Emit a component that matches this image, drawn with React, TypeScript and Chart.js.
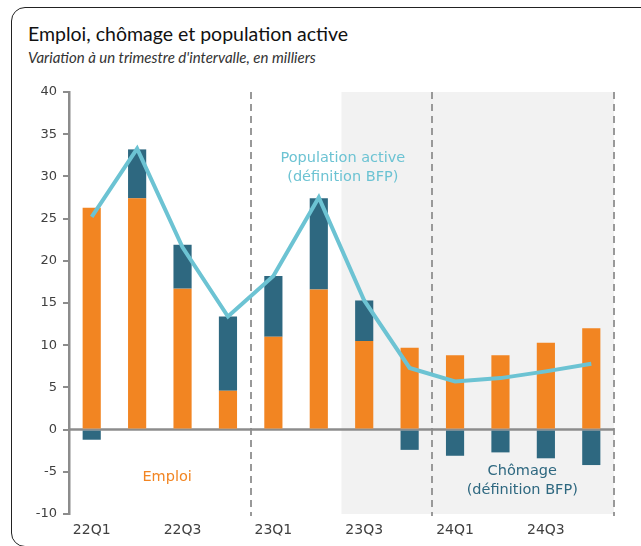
import React, { useEffect, useRef } from "react";
import { Chart, registerables } from "chart.js";

Chart.register(...registerables);

const categories = ["22Q1","22Q2","22Q3","22Q4","23Q1","23Q2","23Q3","23Q4","24Q1","24Q2","24Q3","24Q4"];
const tickLabels = ["22Q1","","22Q3","","23Q1","","23Q3","","24Q1","","24Q3",""];
const emploi = [26.3, 27.4, 16.7, 4.6, 11.0, 16.6, 10.5, 9.7, 8.8, 8.8, 10.3, 12.0];
const chomage = [-1.2, 5.8, 5.2, 8.8, 7.2, 10.8, 4.8, -2.4, -3.1, -2.7, -3.4, -4.2];
const populationActive = [25.2, 33.3, 21.6, 13.4, 18.2, 27.5, 15.3, 7.3, 5.7, 6.1, 6.9, 7.8];
const yTicks = [-10, -5, 0, 5, 10, 15, 20, 25, 30, 35, 40];

const ORANGE = "#F28522";
const TEAL = "#2E6880";
const CYAN = "#6CC3D3";
const GRAY = "#8C8C8C";

const decorPlugin = {
  id: "decor",
  beforeDatasetsDraw(chart: any) {
    const { ctx, chartArea, scales } = chart;
    const x = scales.x;
    const y = scales.y;
    const mid = (i: number) => (x.getPixelForValue(i) + x.getPixelForValue(i + 1)) / 2;
    const shadeStart = mid(5);
    const shadeEnd = mid(11);
    ctx.save();
    ctx.fillStyle = "#F2F2F2";
    ctx.fillRect(shadeStart, chartArea.top, shadeEnd - shadeStart, chartArea.bottom - chartArea.top);
    ctx.strokeStyle = "#999999";
    ctx.lineWidth = 2;
    ctx.setLineDash([7, 5]);
    [mid(3), mid(7), mid(11)].forEach((px) => {
      ctx.beginPath();
      ctx.moveTo(Math.round(px), chartArea.top);
      ctx.lineTo(Math.round(px), chartArea.bottom + 2);
      ctx.stroke();
    });
    ctx.setLineDash([]);
    ctx.strokeStyle = GRAY;
    ctx.lineWidth = 2.5;
    ctx.beginPath();
    ctx.moveTo(chartArea.left, y.getPixelForValue(0));
    ctx.lineTo(shadeEnd, y.getPixelForValue(0));
    ctx.stroke();
    ctx.restore();
  },
  afterDatasetsDraw(chart: any) {
    const { ctx, scales } = chart;
    const x = scales.x;
    const y = scales.y;
    ctx.save();
    ctx.font = "14.5px 'DejaVu Sans'";
    ctx.textAlign = "center";
    ctx.textBaseline = "middle";
    ctx.fillStyle = CYAN;
    const px = x.getPixelForValue(5.53);
    ctx.fillText("Population active", px, y.getPixelForValue(32.1));
    ctx.fillText("(définition BFP)", px, y.getPixelForValue(29.85));
    ctx.fillStyle = ORANGE;
    ctx.fillText("Emploi", x.getPixelForValue(1.66), y.getPixelForValue(-5.7));
    ctx.fillStyle = TEAL;
    const cx = x.getPixelForValue(9.48);
    ctx.fillText("Chômage", cx, y.getPixelForValue(-4.9));
    ctx.fillText("(définition BFP)", cx, y.getPixelForValue(-7.2));
    ctx.restore();
  },
};

export default function App() {
  const ref = useRef<HTMLCanvasElement>(null);
  useEffect(() => {
    if (!ref.current) return;
    const chart = new Chart(ref.current, {
      type: "bar",
      data: {
        labels: categories,
        datasets: [
          {
            type: "line",
            label: "Population active (définition BFP)",
            data: populationActive,
            borderColor: CYAN,
            backgroundColor: CYAN,
            borderWidth: 4,
            pointRadius: 0,
            tension: 0,
            stack: "line",
            order: 0,
          } as any,
          {
            label: "Emploi",
            data: emploi,
            backgroundColor: ORANGE,
            barPercentage: 0.4,
            categoryPercentage: 1,
            stack: "bars",
            order: 1,
          },
          {
            label: "Chômage (définition BFP)",
            data: chomage,
            backgroundColor: TEAL,
            barPercentage: 0.4,
            categoryPercentage: 1,
            stack: "bars",
            order: 1,
          },
        ],
      },
      options: {
        animation: false,
        responsive: false,
        maintainAspectRatio: false,
        layout: { padding: { left: 20, right: 27, top: 92, bottom: 4 } },
        plugins: { legend: { display: false }, tooltip: { enabled: false }, title: { display: false } },
        scales: {
          x: {
            stacked: true,
            afterFit: (s: any) => { s.height = 28; },
            grid: { display: false },
            border: { display: false },
            ticks: {
              autoSkip: false,
              maxRotation: 0,
              color: "#404040",
              font: { family: "'DejaVu Sans'", size: 14 },
              padding: 0,
              callback: (_v: any, i: number) => tickLabels[i],
            },
          },
          y: {
            stacked: true,
            min: -10,
            max: 40,
            afterFit: (s: any) => { s.width = 49; },
            afterBuildTicks: (s: any) => { s.ticks = yTicks.map((v) => ({ value: v })); },
            grid: {
              drawOnChartArea: false,
              drawTicks: true,
              tickLength: 6,
              tickColor: GRAY,
              lineWidth: 2,
            },
            border: { display: true, color: GRAY, width: 2.5 },
            ticks: {
              color: "#404040",
              font: { family: "'DejaVu Sans'", size: 13 },
              padding: 6,
            },
          },
        },
      },
      plugins: [decorPlugin],
    });
    return () => chart.destroy();
  }, []);

  return (
    <div style={{ position: "fixed", left: 0, top: 0, width: 641, height: 546, overflow: "hidden", background: "#fff" }}>
      <div style={{ position: "absolute", left: 11, top: 7, width: 720, height: 538, border: "1.5px solid #222", borderRadius: 14 }} />
      <div style={{ position: "absolute", left: 28, top: 22, fontFamily: "Lato, 'Open Sans', sans-serif", fontSize: 19.5, color: "#111", whiteSpace: "nowrap" }}>
        Emploi, chômage et population active
      </div>
      <div style={{ position: "absolute", left: 28, top: 48, fontFamily: "Lato, 'Open Sans', sans-serif", fontSize: 15, fontStyle: "italic", color: "#333", whiteSpace: "nowrap" }}>
        Variation à un trimestre d'intervalle, en milliers
      </div>
      <canvas ref={ref} width={641} height={546} style={{ position: "absolute", left: 0, top: 0, width: 641, height: 546 }} />
    </div>
  );
}
